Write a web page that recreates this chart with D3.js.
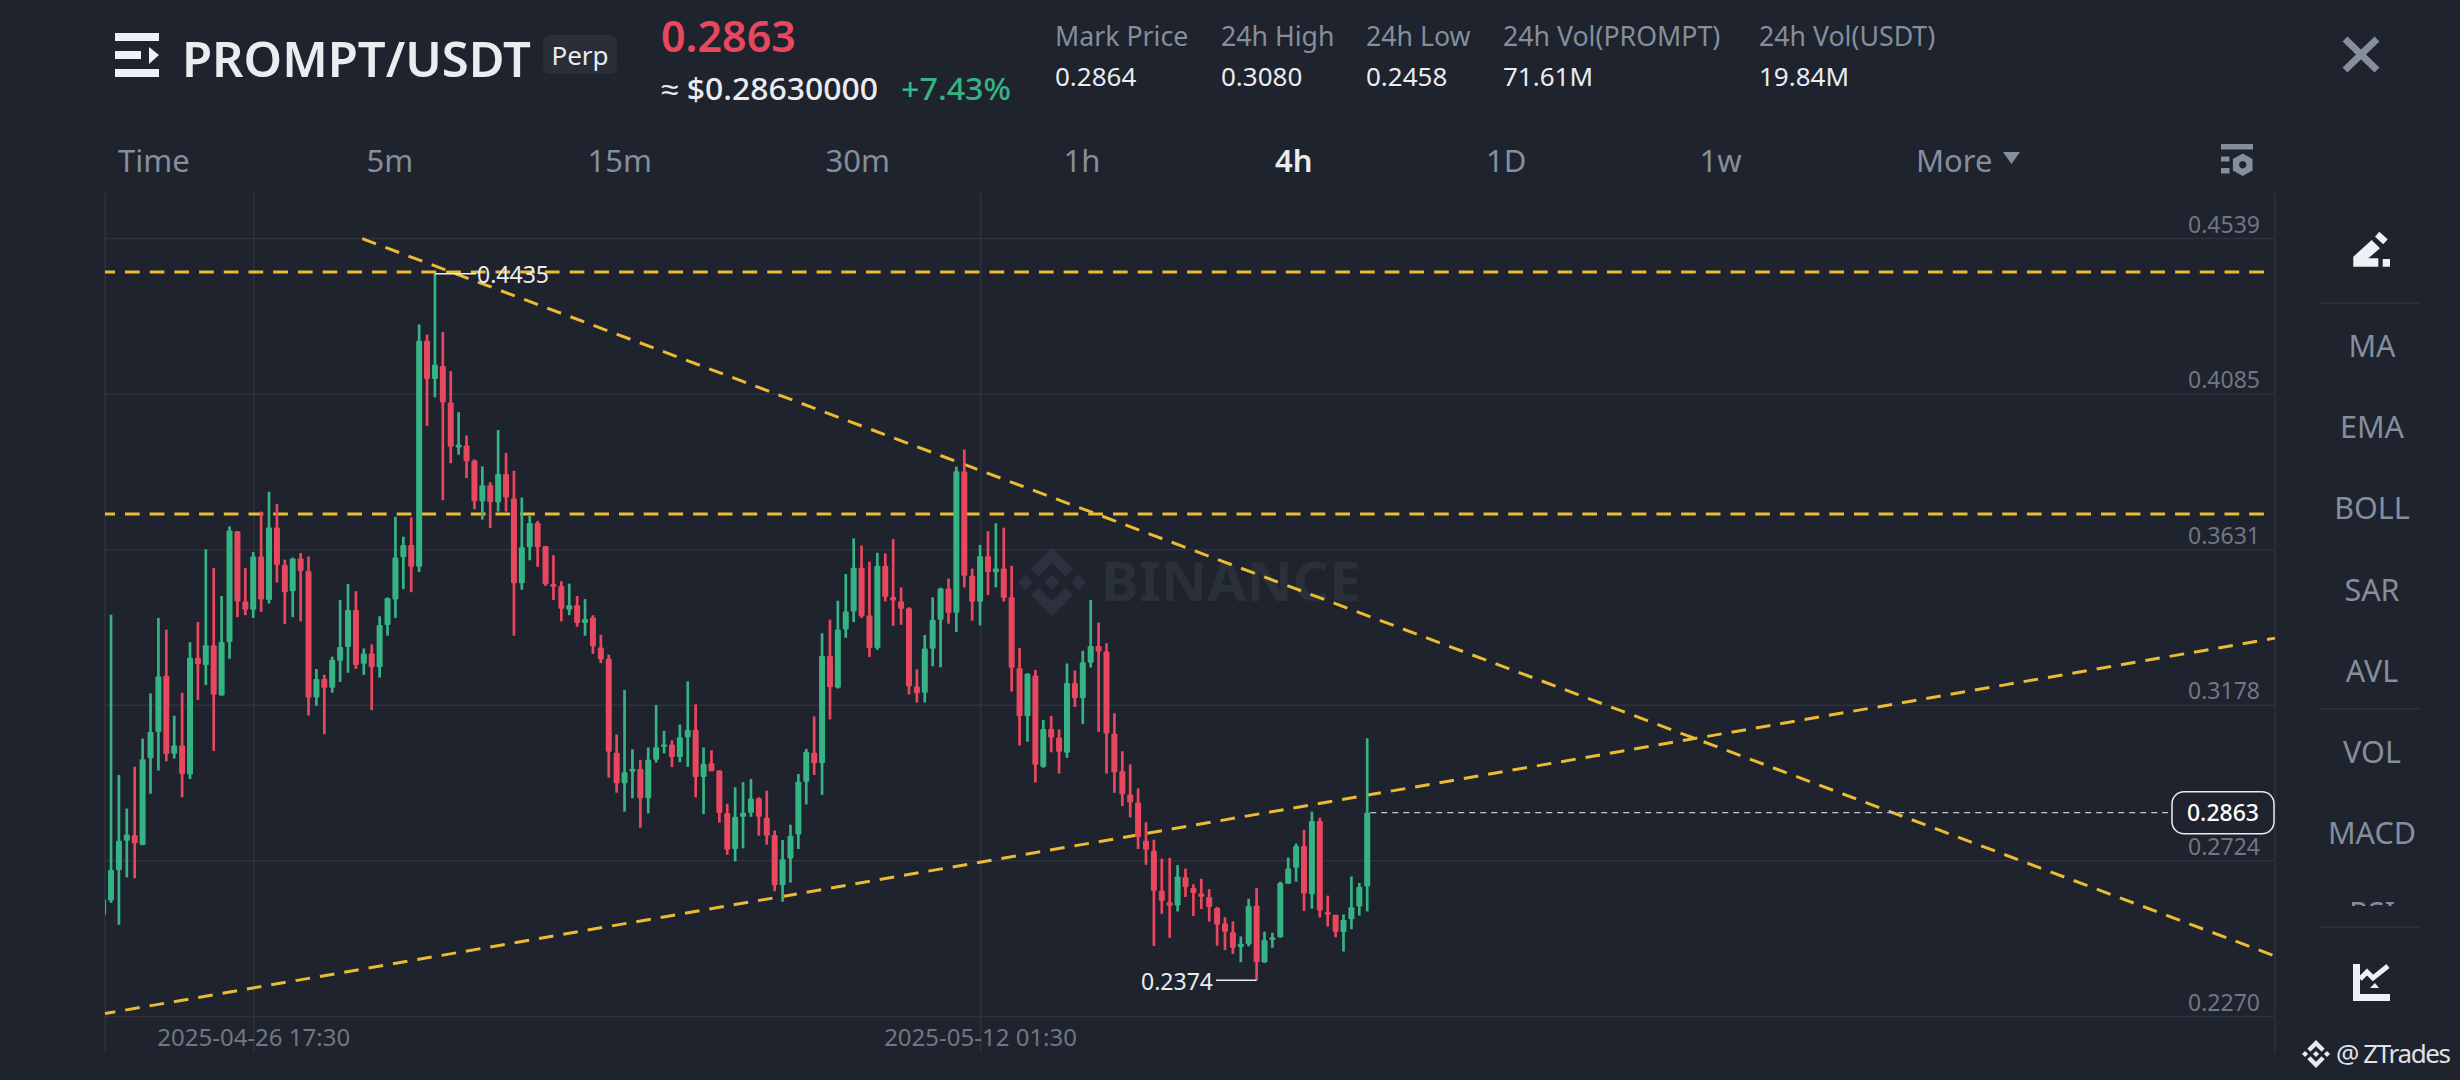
<!DOCTYPE html>
<html>
<head>
<meta charset="utf-8">
<script src="https://cdn.jsdelivr.net/npm/d3@7/dist/d3.min.js"></script>
<style>
html,body{margin:0;padding:0;background:#1e232d;overflow:hidden}
svg{display:block}
text{font-family:"Noto Sans",sans-serif}
</style>
</head>
<body>
<svg id="c" width="2460" height="1080"></svg>
<script>
// ---------- data ----------
const firstCandle = -1;
const opens = [.2565,
.2607,.2696,.2781,.2797,.2769,.3022,.3098,.3262,.3035,.3059,
.2974,.3315,.3294,.3351,.3205,.3361,.3684,.3479,.3455,.3610,
.3483,.3695,.3585,.3509,.3604,.3568,.3199,.3253,.3227,.3306,
.3346,.3454,.3297,.3327,.3287,.3410,.3485,.3608,.3644,.3580,
.4239,.4128,.4166,.4059,.3928,.3934,.3890,.3771,.3818,.3768,
.3851,.3779,.3532,.3637,.3708,.3641,.3530,.3524,.3455,.3468,
.3416,.3432,.3345,.3312,.3038,.2949,.2983,.2990,.2905,.3017,
.3055,.3062,.3025,.3083,.3104,.2967,.3007,.2986,.2861,.2757,
.2851,.2863,.2905,.2848,.2798,.2651,.2729,.2799,.2953,.3038,
.3007,.3320,.3227,.3397,.3450,.3577,.3438,.3343,.3583,.3492,
.3479,.3459,.3231,.3213,.3341,.3426,.3517,.3446,.3858,.3554,
.3478,.3611,.3564,.3575,.3491,.3284,.3144,.3263,.2997,.3107,
.3082,.3038,.3241,.3197,.3300,.3349,.3333,.3093,.2984,.2916,
.2893,.2781,.2752,.2635,.2602,.2592,.2675,.2643,.2627,.2617,
.2585,.2540,.2514,.2471,.2479,.2592,.2427,.2492,.2500,.2656,
.2702,.2766,.2625,.2839,.2573,.2565,.2515,.2552,.2589,.2648];
const highs = [.2610,
.3440,.2973,.2875,.2997,.3079,.3211,.3431,.3397,.3146,.3213,
.3360,.3419,.3631,.3577,.3495,.3698,.3684,.3577,.3623,.3741,
.3799,.3763,.3601,.3607,.3620,.3610,.3282,.3265,.3318,.3483,
.3530,.3509,.3342,.3354,.3436,.3491,.3726,.3668,.3724,.4287,
.4257,.4435,.4265,.4151,.4031,.3963,.3893,.3873,.3827,.3979,
.3912,.3860,.3782,.3729,.3714,.3641,.3614,.3538,.3531,.3495,
.3486,.3439,.3382,.3324,.3091,.3221,.3048,.3017,.3053,.3177,
.3102,.3074,.3120,.3246,.3179,.3053,.3045,.2987,.2889,.2937,
.2952,.2961,.2908,.2927,.2811,.2783,.2828,.2976,.3049,.3144,
.3386,.3426,.3481,.3559,.3663,.3642,.3595,.3621,.3619,.3661,
.3520,.3462,.3281,.3381,.3491,.3519,.3546,.3872,.3922,.3575,
.3644,.3684,.3707,.3694,.3583,.3343,.3270,.3279,.3133,.3145,
.3106,.3298,.3278,.3335,.3483,.3417,.3357,.3153,.3042,.3004,
.2934,.2835,.2784,.2729,.2731,.2710,.2700,.2654,.2670,.2640,
.2588,.2558,.2546,.2502,.2612,.2643,.2516,.2513,.2662,.2732,
.2773,.2813,.2866,.2848,.2621,.2565,.2566,.2677,.2658,.3080];
const lows = [.2565,
.2600,.2536,.2674,.2672,.2768,.2918,.2986,.3013,.3021,.2908,
.2961,.3192,.3235,.3043,.3205,.3312,.3433,.3439,.3431,.3449,
.3473,.3534,.3413,.3433,.3421,.3146,.3175,.3092,.3213,.3244,
.3271,.3282,.3265,.3162,.3257,.3379,.3431,.3515,.3506,.3565,
.3991,.4074,.3774,.3882,.3907,.3839,.3748,.3718,.3693,.3741,
.3741,.3379,.3513,.3599,.3580,.3524,.3483,.3421,.3439,.3405,
.3379,.3326,.3299,.2965,.2921,.2866,.2905,.2819,.2861,.3009,
.3036,.2996,.3010,.2997,.2908,.2859,.2984,.2834,.2740,.2721,
.2759,.2851,.2796,.2770,.2634,.2603,.2659,.2757,.2887,.2973,
.2915,.3135,.3225,.3373,.3419,.3431,.3317,.3338,.3479,.3408,
.3411,.3208,.3184,.3184,.3290,.3287,.3414,.3390,.3520,.3423,
.3409,.3498,.3520,.3479,.3216,.3059,.3070,.2951,.2994,.3039,
.2977,.3023,.3171,.3122,.3286,.3099,.2977,.2921,.2882,.2849,
.2757,.2711,.2474,.2568,.2498,.2575,.2617,.2562,.2582,.2545,
.2475,.2462,.2451,.2427,.2473,.2374,.2425,.2469,.2498,.2656,
.2662,.2576,.2583,.2557,.2531,.2500,.2458,.2523,.2563,.2575];
const closes = [.2610,
.2696,.2781,.2799,.2774,.3019,.3098,.3260,.3034,.3059,.2976,
.3315,.3296,.3351,.3208,.3361,.3686,.3479,.3455,.3610,.3485,
.3695,.3585,.3506,.3604,.3568,.3199,.3253,.3227,.3309,.3346,
.3454,.3294,.3327,.3287,.3410,.3488,.3607,.3644,.3580,.4239,
.4128,.4169,.4059,.3930,.3937,.3888,.3771,.3818,.3768,.3851,
.3782,.3532,.3637,.3708,.3637,.3530,.3522,.3458,.3468,.3416,
.3428,.3348,.3310,.3041,.2949,.2981,.2991,.2905,.3017,.3054,
.3062,.3025,.3083,.3104,.2967,.3005,.2984,.2862,.2755,.2851,
.2863,.2904,.2851,.2796,.2651,.2727,.2796,.2953,.3041,.3007,
.3320,.3229,.3397,.3450,.3577,.3436,.3343,.3583,.3492,.3482,
.3458,.3232,.3211,.3342,.3426,.3517,.3445,.3859,.3554,.3478,
.3611,.3565,.3575,.3490,.3286,.3144,.3268,.3003,.3107,.3082,
.3041,.3241,.3197,.3302,.3349,.3333,.3094,.2981,.2917,.2893,
.2792,.2755,.2635,.2606,.2591,.2677,.2646,.2629,.2618,.2588,
.2537,.2516,.2469,.2481,.2591,.2427,.2492,.2500,.2658,.2700,
.2766,.2627,.2839,.2578,.2565,.2516,.2550,.2587,.2646,.2863];
const priceTicks = [.4539,.4085,.3631,.3178,.2724,.2270];
const timeTickIndex = [18,110];
const timeTickLabels = ["2025-04-26 17:30","2025-05-12 01:30"];
const lastPrice = .2863, highPrice = .4435, lowPrice = .2374;
const highIndex = 41, lowIndex = 145, lastIndex = 159;
// drawn lines: [start index, start price, end index, end price]
const trendLines = [
  [-0.76,.4440,273,.4440],
  [-0.76,.3734,273,.3734],
  [31.8,.4537,273.9,.2445],
  [-0.76,.2277,273.9,.3372]
];
const topStatLabels = ["Mark Price","24h High","24h Low","24h Vol(PROMPT)","24h Vol(USDT)"];
const topStatValues = ["0.2864","0.3080","0.2458","71.61M","19.84M"];
const intervals = ["Time","5m","15m","30m","1h","4h","1D","1w","More"];
const indicators = ["MA","EMA","BOLL","SAR","AVL","VOL","MACD"];

// ---------- palette ----------
const GREEN="#35b384", RED="#e8485f", GOLD="#ebbb34", GRID="#2d323c",
      GREY="#848e9c", AXIS="#6f7783", WHITE="#eaecef", BG="#1e232d";

const svg = d3.select("#c");
svg.append("rect").attr("width",2460).attr("height",1080).attr("fill",BG);

// ---------- scales ----------
const x = d3.scaleLinear().domain([-0.76,273.9]).range([105,2275]);
const y = d3.scaleLinear().domain([priceTicks[0],priceTicks[5]]).range([238,1016]);

svg.append("clipPath").attr("id","plot").append("rect")
   .attr("x",105).attr("y",193).attr("width",2170).attr("height",860);

// ---------- grid & axes ----------
const yAxis = d3.axisLeft(y).tickValues(priceTicks).tickSize(2170).tickFormat(d3.format(".4f"));
const gy = svg.append("g").attr("transform","translate(2275,0)").call(yAxis);
gy.select(".domain").remove();
gy.selectAll("line").attr("stroke",GRID).attr("stroke-width",1.5);
gy.selectAll("text").attr("x",-15).attr("dy",-6).attr("text-anchor","end")
  .attr("dominant-baseline","auto").attr("fill",AXIS).attr("font-size",23);

const xAxis = d3.axisBottom(x).tickValues(timeTickIndex).tickSize(860)
  .tickFormat((d,i)=>timeTickLabels[i]);
const gx = svg.append("g").attr("transform","translate(0,193)").call(xAxis);
gx.select(".domain").remove();
gx.selectAll("line").attr("stroke",GRID).attr("stroke-width",1.5);
gx.selectAll("text").attr("y",853).attr("dy",0).attr("text-anchor","middle")
  .attr("fill",AXIS).attr("font-size",24);

svg.selectAll("line.edge").data([105,2275]).join("line").attr("class","edge")
  .attr("x1",d=>d).attr("x2",d=>d).attr("y1",193).attr("y2",1053)
  .attr("stroke",GRID).attr("stroke-width",1.5);

// ---------- watermark ----------
function binanceLogo(g,cx,cy,r,fill){
  const polys=[
   [[0,-.22],[.22,0],[0,.22],[-.22,0]],
   [[-.78,-.22],[-.56,0],[-.78,.22],[-1,0]],
   [[.78,-.22],[1,0],[.78,.22],[.56,0]],
   [[-.62,-.38],[0,-1],[.62,-.38],[.4,-.16],[0,-.56],[-.4,-.16]],
   [[-.62,.38],[0,1],[.62,.38],[.4,.16],[0,.56],[-.4,.16]]
  ];
  g.append("g").selectAll("polygon").data(polys).join("polygon")
   .attr("points",p=>p.map(q=>[cx+q[0]*r,cy+q[1]*r].join(",")).join(" "))
   .attr("fill",fill);
}
binanceLogo(svg,1052,582,34,"#2c323d");
svg.append("text").attr("x",1101).attr("y",601).attr("font-size",54).attr("font-weight",700)
   .attr("fill","#2a303a").attr("textLength",260).attr("lengthAdjust","spacingAndGlyphs").text("BINANCE");

// ---------- trend lines ----------
const dashPhase = [4.7,4.7,0,4.2];
svg.append("g").selectAll("line").data(trendLines).join("line")
  .attr("x1",d=>x(d[0])).attr("y1",d=>y(d[1])).attr("x2",d=>x(d[2])).attr("y2",d=>y(d[3]))
  .attr("stroke",GOLD).attr("stroke-width",3).attr("stroke-dasharray","14.7 10")
  .attr("stroke-dashoffset",(d,i)=>dashPhase[i]);

// ---------- candles ----------
const candles = d3.range(opens.length).map(i=>({i:i+firstCandle,o:opens[i],h:highs[i],l:lows[i],c:closes[i]}));
const gc = svg.append("g").attr("clip-path","url(#plot)");
gc.selectAll("line.wick").data(candles).join("line").attr("class","wick")
  .attr("x1",d=>x(d.i)).attr("x2",d=>x(d.i)).attr("y1",d=>y(d.h)).attr("y2",d=>y(d.l))
  .attr("stroke",d=>d.c>=d.o?GREEN:RED).attr("stroke-width",2.7);
gc.selectAll("rect.body").data(candles).join("rect").attr("class","body")
  .attr("x",d=>x(d.i)-3).attr("width",6)
  .attr("y",d=>y(Math.max(d.o,d.c))).attr("height",d=>Math.max(2,Math.abs(y(d.o)-y(d.c))))
  .attr("rx",1).attr("fill",d=>d.c>=d.o?GREEN:RED);

// ---------- high / low / last markers ----------
svg.append("line").attr("x1",x(highIndex)).attr("x2",476).attr("y1",y(highPrice)).attr("y2",y(highPrice))
   .attr("stroke",WHITE).attr("stroke-width",1.5);
svg.append("text").attr("x",477).attr("y",y(highPrice)+9).attr("font-size",23).attr("fill",WHITE).text(d3.format(".4f")(highPrice));
svg.append("line").attr("x1",x(lowIndex)).attr("x2",1216).attr("y1",y(lowPrice)).attr("y2",y(lowPrice))
   .attr("stroke",WHITE).attr("stroke-width",1.5);
svg.append("text").attr("x",1141).attr("y",y(lowPrice)+10).attr("font-size",23).attr("fill",WHITE).text(d3.format(".4f")(lowPrice));
svg.append("line").attr("x1",x(lastIndex)+3).attr("x2",2168).attr("y1",y(lastPrice)).attr("y2",y(lastPrice))
   .attr("stroke","#c4c8ce").attr("stroke-width",1.3).attr("stroke-dasharray","6 5");
svg.append("rect").attr("x",2172).attr("y",y(lastPrice)-21).attr("width",102).attr("height",42).attr("rx",12)
   .attr("fill",BG).attr("stroke",WHITE).attr("stroke-width",1.5);
svg.append("text").attr("x",2223).attr("y",y(lastPrice)+8).attr("text-anchor","middle").attr("font-size",23)
   .attr("font-weight",500).attr("fill","#ffffff").text(d3.format(".4f")(lastPrice));

// ---------- header ----------
const icon = svg.append("g").attr("fill","#eef0f3");
icon.append("rect").attr("x",115).attr("y",33).attr("width",44).attr("height",8);
icon.append("rect").attr("x",115).attr("y",51).attr("width",26).attr("height",8);
icon.append("polygon").attr("points","149,47 159,55 149,64");
icon.append("rect").attr("x",115).attr("y",69).attr("width",44).attr("height",8);
svg.append("text").attr("x",182).attr("y",77).attr("font-size",48).attr("font-weight",600).attr("fill",WHITE)
   .attr("textLength",349).attr("lengthAdjust","spacingAndGlyphs").text("PROMPT/USDT");
svg.append("rect").attr("x",543).attr("y",35).attr("width",74).attr("height",39).attr("rx",6).attr("fill","#292e38");
svg.append("text").attr("x",580).attr("y",65).attr("text-anchor","middle").attr("font-size",26).attr("fill",WHITE).text("Perp");
svg.append("text").attr("x",661).attr("y",52).attr("font-size",43).attr("font-weight",600).attr("fill",RED).text(d3.format(".4f")(lastPrice));
svg.append("text").attr("x",661).attr("y",100).attr("font-size",31).attr("font-weight",500).attr("fill",WHITE)
   .attr("textLength",217).attr("lengthAdjust","spacingAndGlyphs").text("≈ $0.28630000");
svg.append("text").attr("x",901).attr("y",100).attr("font-size",31).attr("font-weight",500).attr("fill",GREEN)
   .attr("textLength",110).attr("lengthAdjust","spacingAndGlyphs").text("+7.43%");

const statX = [1055,1221,1366,1503,1759];
svg.append("g").selectAll("text").data(topStatLabels).join("text")
  .attr("x",(d,i)=>statX[i]).attr("y",46).attr("font-size",26.7).attr("fill",GREY).text(d=>d);
svg.append("g").selectAll("text").data(topStatValues).join("text")
  .attr("x",(d,i)=>statX[i]).attr("y",86).attr("font-size",26).attr("fill",WHITE).text(d=>d);

const tabX = [118,366.5,587.5,825.5,1063.5,1275,1486,1699.5,1916];
svg.append("g").selectAll("text").data(intervals).join("text")
  .attr("x",(d,i)=>tabX[i]).attr("y",172).attr("font-size",31)
  .attr("fill",d=>d==="4h"?WHITE:GREY).attr("font-weight",d=>d==="4h"?600:400).text(d=>d);
svg.append("polygon").attr("points","2003,152 2020,152 2011.5,164").attr("fill",GREY);

// close icon
svg.append("path").attr("d","M2345,39 L2377,70 M2377,39 L2345,70").attr("stroke",GREY).attr("stroke-width",7).attr("fill","none");
// settings icon
const st = svg.append("g").attr("fill",GREY);
st.append("rect").attr("x",2221).attr("y",144).attr("width",32).attr("height",5.5);
st.append("rect").attr("x",2221).attr("y",156.5).attr("width",8.5).attr("height",5);
st.append("rect").attr("x",2221).attr("y",168).attr("width",8.5).attr("height",5.5);
st.append("path").attr("fill-rule","evenodd")
  .attr("d","M2242.7,153.4 L2252.5,159 L2252.5,170.4 L2242.7,176 L2232.9,170.4 L2232.9,159 Z M2242.7,161 a3.7,3.7 0 1,0 0.01,0 Z");

// ---------- right side bar ----------
const indY = [346,427,508,590,671,752,833];
svg.append("g").selectAll("text").data(indicators).join("text")
  .attr("x",2372).attr("y",(d,i)=>indY[i]+11).attr("text-anchor","middle")
  .attr("font-size",30.5).attr("fill",GREY).text(d=>d);
svg.append("clipPath").attr("id","sideclip").append("rect").attr("x",2320).attr("y",901).attr("width",110).attr("height",5);
svg.append("text").attr("x",2372).attr("y",923.5).attr("text-anchor","middle").attr("font-size",30.5)
   .attr("fill",GREY).attr("clip-path","url(#sideclip)").text("RSI");
svg.append("g").selectAll("line").data([303,709,927]).join("line")
  .attr("x1",2320).attr("x2",2421).attr("y1",d=>d).attr("y2",d=>d).attr("stroke",GRID).attr("stroke-width",1.5);
// pencil icon
svg.append("path").attr("fill","#eef0f3")
  .attr("d","M2353.3,256.7 L2371.7,240 L2380,248.3 L2368.3,258.3 L2378.3,258.3 L2378.3,266.7 L2353.3,266.7 Z M2375,236.7 L2379.3,231.7 L2387.7,239.3 L2383.3,244.3 Z M2382.7,259 L2390,259 L2390,266.7 L2382.7,266.7 Z");
// chart icon
svg.append("path").attr("fill","#eef0f3")
  .attr("d","M2353,964 L2360,964 L2360,994 L2390,994 L2390,1001 L2353,1001 Z M2370,988 L2375,983 L2379,988 Z");
svg.append("path").attr("fill","none").attr("stroke","#eef0f3").attr("stroke-width",5)
  .attr("d","M2360,979 L2367,972 L2373,978 L2388,966");

// ---------- credit ----------
binanceLogo(svg,2316,1054,14,"#e8eaed");
svg.append("text").attr("x",2336).attr("y",1063).attr("font-size",26).attr("fill","#e0e2e6")
   .attr("textLength",115).attr("lengthAdjust","spacing").text("@ ZTrades");
</script>
</body>
</html>
